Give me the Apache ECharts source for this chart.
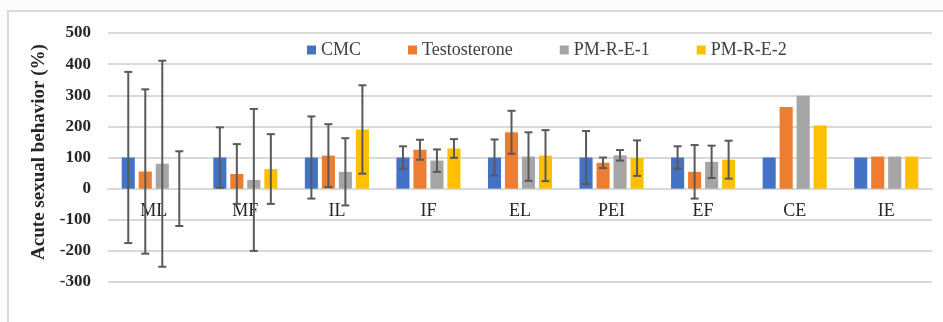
<!DOCTYPE html>
<html>
<head>
<meta charset="utf-8">
<script src="https://cdn.jsdelivr.net/npm/echarts@6/dist/echarts.min.js"></script>
<style>
html,body{margin:0;padding:0;background:#fbfcfc;}
#chart{width:943px;height:322px;}
</style>
</head>
<body>
<div id="chart"></div>
<script>
const categories = ['ML','MF','IL','IF','EL','PEI','EF','CE','IE'];
const seriesNames = ['CMC','Testosterone','PM-R-E-1','PM-R-E-2'];
const colors = ['#4472C4','#ED7D31','#A5A5A5','#FFC000'];

const cmcValues   = [100, 100, 100, 100, 100, 100, 100, 100, 100];
const testoValues = [55, 47, 106, 125, 181, 83, 54, 262, 103];
const pm1Values   = [80, 28, 54, 90, 103, 107, 86, 298, 103];
const pm2Values   = [0, 63, 190, 129, 106, 98, 93, 203, 103];

// error bar half-widths (null = no error bar)
const cmcErr   = [275, 97, 132, 36, 58, 85, 36, null, null];
const testoErr = [264, 96, 101, 32, 69, 17, 86, null, null];
const pm1Err   = [331, 228, 108, 36, 78, 17, 52, null, null];
const pm2Err   = [120, 112, 142, 30, 82, 57, 61, null, null];

const yTicks = [-300, -200, -100, 0, 100, 200, 300, 400, 500];

const allValues = [cmcValues, testoValues, pm1Values, pm2Values];
const allErr = [cmcErr, testoErr, pm1Err, pm2Err];

const chart = echarts.init(document.getElementById('chart'), null, {renderer:'canvas'});

const CAT_GAP = 0.3, BAR_GAP = 0.3, N = 4;
const GRID_TOP = 33, GRID_BOTTOM = 40, H = 322;
const plotH = H - GRID_TOP - GRID_BOTTOM;
const yMin = yTicks[0], yMax = yTicks[yTicks.length - 1];
const zeroOffset = -plotH * (0 - yMin) / (yMax - yMin);

function makeErrSeries(idx) {
  const data = [];
  allValues[idx].forEach((v, i) => {
    const e = allErr[idx][i];
    if (e !== null) data.push([i, v - e, v + e]);
  });
  return {
    type: 'custom',
    name: seriesNames[idx] + ' err',
    z: 5,
    silent: true,
    renderItem: function (params, api) {
      const ci = api.value(0);
      const lo = api.coord([ci, api.value(1)]);
      const hi = api.coord([ci, api.value(2)]);
      const cw = api.size([1, 0])[0];
      const avail = cw * (1 - CAT_GAP);
      const bw = avail / (N + (N - 1) * BAR_GAP);
      const x = lo[0] - avail / 2 + idx * bw * (1 + BAR_GAP) + bw / 2;
      const cap = 4;
      const style = {stroke: '#595959', lineWidth: 2};
      return {
        type: 'group',
        children: [
          {type: 'line', shape: {x1: x, y1: lo[1], x2: x, y2: hi[1]}, style: style},
          {type: 'line', shape: {x1: x - cap, y1: lo[1], x2: x + cap, y2: lo[1]}, style: style},
          {type: 'line', shape: {x1: x - cap, y1: hi[1], x2: x + cap, y2: hi[1]}, style: style}
        ]
      };
    },
    data: data
  };
}

const barSeries = seriesNames.map((n, i) => ({
  type: 'bar',
  name: n,
  data: allValues[i],
  itemStyle: {color: colors[i]},
  barGap: (BAR_GAP * 100) + '%',
  barCategoryGap: (CAT_GAP * 100) + '%',
  z: 2
}));

const option = {
  backgroundColor: '#fbfcfc',
  animation: false,
  textStyle: {fontFamily: '"Liberation Serif", "Times New Roman", serif'},
  graphic: [{
    type: 'rect',
    shape: {x: 8, y: 11, width: 960, height: 340},
    style: {fill: '#ffffff', stroke: '#d9d9d9', lineWidth: 2},
    z: -10
  }],
  legend: {
    data: seriesNames,
    left: 302,
    top: 36,
    icon: 'rect',
    itemWidth: 9,
    itemHeight: 9,
    itemGap: 47,
    textStyle: {fontFamily: '"Liberation Serif", serif', fontSize: 18, color: '#404040'}
  },
  grid: {left: 108, right: 11, top: GRID_TOP, bottom: GRID_BOTTOM, containLabel: false},
  xAxis: {
    type: 'category',
    data: categories,
    offset: zeroOffset,
    axisLine: {onZero: false, lineStyle: {color: '#d9d9d9', width: 2}},
    axisTick: {show: false},
    axisLabel: {fontFamily: '"Liberation Serif", serif', fontSize: 18, color: '#262626', margin: 14},
    z: 1
  },
  yAxis: {
    type: 'value',
    min: yMin,
    max: yMax,
    interval: 100,
    name: 'Acute sexual behavior (%)',
    nameLocation: 'middle',
    nameGap: 54,
    nameTextStyle: {fontFamily: '"Liberation Serif", serif', fontSize: 19, fontWeight: 'bold', color: '#262626', padding: [0, 0, 0, 11]},
    axisLine: {show: false},
    axisTick: {show: false},
    axisLabel: {fontFamily: '"Liberation Serif", serif', fontSize: 17, fontWeight: 'bold', color: '#262626', margin: 17},
    splitLine: {lineStyle: {color: '#d9d9d9', width: 2}}
  },
  series: barSeries.concat([0,1,2,3].map(makeErrSeries))
};
chart.setOption(option);
</script>
</body>
</html>
